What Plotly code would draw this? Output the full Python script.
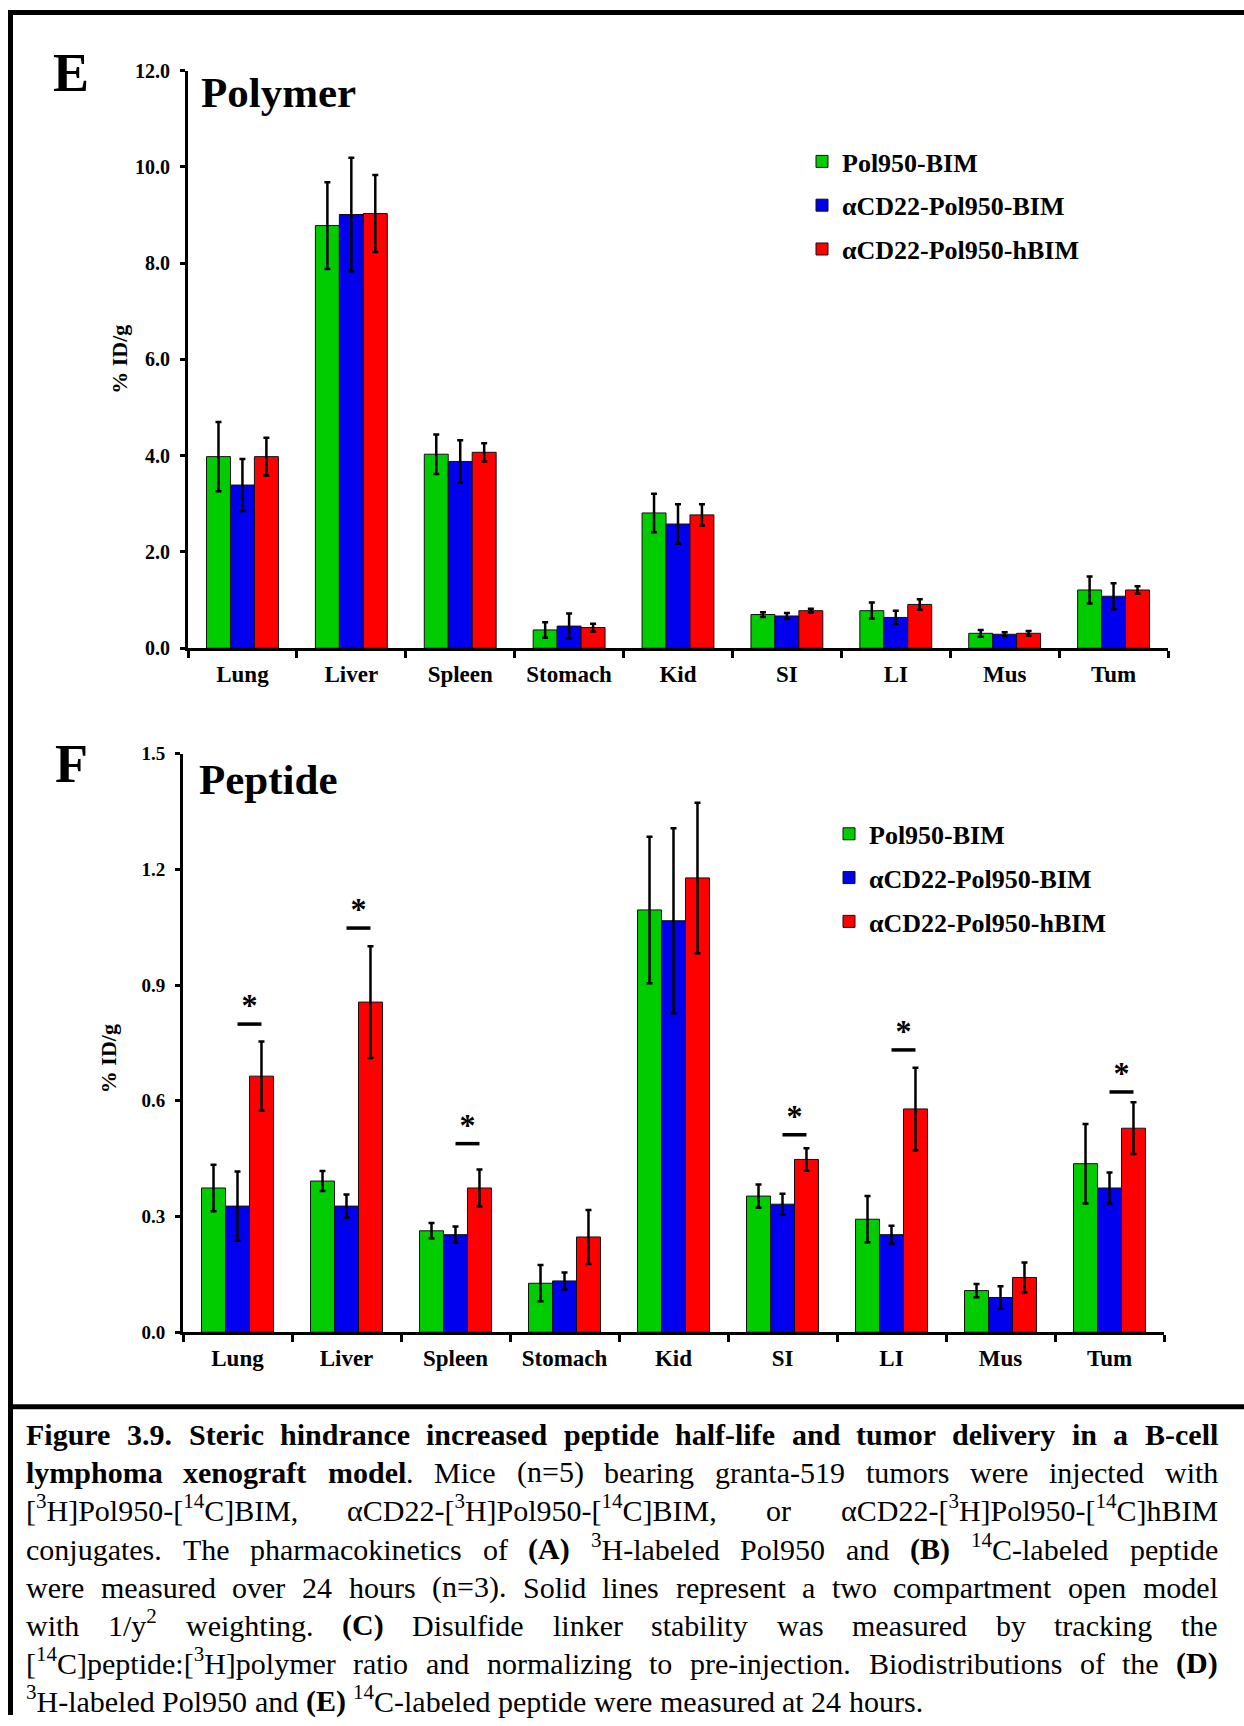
import plotly.graph_objects as go

# ---------------- data ----------------
categories = ["Lung", "Liver", "Spleen", "Stomach", "Kid", "SI", "LI", "Mus", "Tum"]
series_names = ["Pol950-BIM", "αCD22-Pol950-BIM", "αCD22-Pol950-hBIM"]

poly_green = [3.98, 8.78, 4.03, 0.38, 2.81, 0.70, 0.78, 0.31, 1.21]
poly_green_err = [0.72, 0.90, 0.41, 0.16, 0.40, 0.05, 0.17, 0.07, 0.28]
poly_blue = [3.39, 9.01, 3.88, 0.46, 2.58, 0.67, 0.64, 0.29, 1.08]
poly_blue_err = [0.54, 1.18, 0.44, 0.26, 0.41, 0.06, 0.14, 0.04, 0.27]
poly_red = [3.98, 9.03, 4.07, 0.43, 2.77, 0.78, 0.91, 0.31, 1.21]
poly_red_err = [0.39, 0.80, 0.19, 0.08, 0.22, 0.04, 0.11, 0.05, 0.08]

pep_green = [0.374, 0.392, 0.263, 0.127, 1.095, 0.353, 0.293, 0.108, 0.437]
pep_green_err = [0.060, 0.026, 0.020, 0.047, 0.190, 0.030, 0.060, 0.017, 0.103]
pep_blue = [0.327, 0.327, 0.253, 0.133, 1.067, 0.332, 0.253, 0.090, 0.374]
pep_blue_err = [0.090, 0.030, 0.021, 0.022, 0.240, 0.027, 0.023, 0.029, 0.040]
pep_red = [0.664, 0.856, 0.374, 0.247, 1.178, 0.448, 0.579, 0.142, 0.529]
pep_red_err = [0.090, 0.145, 0.048, 0.070, 0.195, 0.029, 0.107, 0.039, 0.067]

sig_categories = ["Lung", "Liver", "Spleen", "SI", "LI", "Tum"]
sig_line_y = [0.799, 1.048, 0.489, 0.512, 0.732, 0.623]

poly_ticks = [0, 2, 4, 6, 8, 10, 12]
pep_ticks = [0.0, 0.3, 0.6, 0.9, 1.2, 1.5]

caption_lines = [
    "**Figure 3.9. Steric hindrance increased peptide half-life and tumor delivery in a B-cell**",
    "**lymphoma xenograft model**. Mice (n=5) bearing granta-519 tumors were injected with",
    "[^{3}H]Pol950-[^{14}C]BIM, αCD22-[^{3}H]Pol950-[^{14}C]BIM, or αCD22-[^{3}H]Pol950-[^{14}C]hBIM",
    "conjugates. The pharmacokinetics of **(A)** ^{3}H-labeled Pol950 and **(B)** ^{14}C-labeled peptide",
    "were measured over 24 hours (n=3). Solid lines represent a two compartment open model",
    "with 1/y^{2} weighting. **(C)** Disulfide linker stability was measured by tracking the",
    "[^{14}C]peptide:[^{3}H]polymer ratio and normalizing to pre-injection. Biodistributions of the **(D)**",
    "^{3}H-labeled Pol950 and **(E)** ^{14}C-labeled peptide were measured at 24 hours.",
]

# ---------------- style ----------------
W, H = 1244, 1726
FONT = "Liberation Serif"
colors = ["#00CC00", "#0000EE", "#FF0000"]

# vertical calibration of the photographed page (measured offset / squeeze)
Y_OFF, Y_SQ = 9.9, 0.98813


def xp(px):
    return px / W


def yp(py):
    return 1 - ((py - Y_OFF) / Y_SQ) / H


fig = go.Figure()

n = len(categories)
xs = list(range(n))
bar_w = 0.22

poly_vals = [(poly_green, poly_green_err), (poly_blue, poly_blue_err), (poly_red, poly_red_err)]
pep_vals = [(pep_green, pep_green_err), (pep_blue, pep_blue_err), (pep_red, pep_red_err)]

for k, (vals, errs) in enumerate(poly_vals):
    fig.add_trace(go.Bar(
        x=xs, y=vals, name=series_names[k], xaxis="x", yaxis="y",
        marker=dict(color=colors[k], line=dict(color="#111111", width=1)),
        error_y=dict(type="data", array=errs, color="black", thickness=2.5, width=3),
        legend="legend", legendgroup="p%d" % k,
    ))
for k, (vals, errs) in enumerate(pep_vals):
    fig.add_trace(go.Bar(
        x=xs, y=vals, name=series_names[k], xaxis="x2", yaxis="y2",
        marker=dict(color=colors[k], line=dict(color="#111111", width=1)),
        error_y=dict(type="data", array=errs, color="black", thickness=2.5, width=3),
        legend="legend2", legendgroup="q%d" % k,
    ))

# significance markers (between blue and red bars)
lx, ly, sx = [], [], []
for c, yv in zip(sig_categories, sig_line_y):
    i = categories.index(c)
    lx += [i, i + bar_w, None]
    ly += [yv, yv, None]
    sx.append(i + bar_w / 2)
fig.add_trace(go.Scatter(x=lx, y=ly, mode="lines", line=dict(color="black", width=3.5),
                         xaxis="x2", yaxis="y2", showlegend=False, hoverinfo="skip"))
fig.add_trace(go.Scatter(x=sx, y=sig_line_y, mode="text", text=["*"] * len(sx),
                         textposition="top center",
                         textfont=dict(family=FONT, size=32, color="black", weight="bold"),
                         xaxis="x2", yaxis="y2", showlegend=False, hoverinfo="skip",
                         cliponaxis=False))


def xaxis_cfg(domain, anchor):
    return dict(
        domain=domain, anchor=anchor, range=[-0.5, n - 0.5],
        tickmode="array", tickvals=xs, ticktext=categories, ticks="",
        ticklabelstandoff=3,
        tickfont=dict(family=FONT, size=23, color="black", weight="bold"),
        minor=dict(tickmode="array", tickvals=[i - 0.5 for i in range(n + 1)],
                   ticks="outside", ticklen=7, tickwidth=3, tickcolor="black", showgrid=False),
        showline=True, linecolor="black", linewidth=3, showgrid=False, zeroline=False,
        fixedrange=True,
    )


def yaxis_cfg(domain, anchor, rng, ticks, size):
    return dict(
        domain=domain, anchor=anchor, range=rng,
        tickmode="array", tickvals=ticks, tickformat=".1f",
        ticks="outside", ticklen=5, tickwidth=3, tickcolor="black",
        ticklabelstandoff=6,
        tickfont=dict(family=FONT, size=size, color="black", weight="bold"),
        showline=True, linecolor="black", linewidth=3, showgrid=False, zeroline=False,
    )


legend_font = dict(family=FONT, size=26, color="black", weight="bold")

fig.update_layout(
    width=W, height=H, margin=dict(l=0, r=0, t=0, b=0),
    paper_bgcolor="white", plot_bgcolor="white",
    barmode="group", bargap=0.34, bargroupgap=0,
    xaxis=xaxis_cfg([xp(188), xp(1168)], "y"),
    yaxis=yaxis_cfg([yp(647.7), yp(69.5)], "x", [0, 12], poly_ticks, 20),
    xaxis2=xaxis_cfg([xp(183), xp(1164)], "y2"),
    yaxis2=yaxis_cfg([yp(1332.3), yp(753.3)], "x2", [0, 1.5], pep_ticks, 19),
    legend=dict(x=xp(802), y=yp(137), xanchor="left", yanchor="top", font=legend_font,
                bgcolor="rgba(0,0,0,0)", traceorder="grouped", tracegroupgap=7),
    legend2=dict(x=xp(829), y=yp(810), xanchor="left", yanchor="top", font=legend_font,
                 bgcolor="rgba(0,0,0,0)", traceorder="grouped", tracegroupgap=7),
    showlegend=True,
)


def bold_font(size):
    return dict(family=FONT, size=size, color="black", weight="bold")


annotations = []
# panel letters and titles
annotations.append(dict(text="E", x=xp(71), y=yp(72), xref="paper", yref="paper",
                        xanchor="center", yanchor="middle", showarrow=False, font=bold_font(54)))
annotations.append(dict(text="F", x=xp(71), y=yp(764), xref="paper", yref="paper",
                        xanchor="center", yanchor="middle", showarrow=False, font=bold_font(54)))
annotations.append(dict(text="Polymer", x=xp(199), y=yp(91), xref="paper", yref="paper",
                        xanchor="left", yanchor="middle", showarrow=False, font=bold_font(43)))
annotations.append(dict(text="Peptide", x=xp(197), y=yp(779), xref="paper", yref="paper",
                        xanchor="left", yanchor="middle", showarrow=False, font=bold_font(43)))
# y-axis titles
annotations.append(dict(text="% ID/g", x=xp(120), y=yp(358), xref="paper", yref="paper",
                        xanchor="center", yanchor="middle", showarrow=False, textangle=-90,
                        font=bold_font(22)))
annotations.append(dict(text="% ID/g", x=xp(108), y=yp(1059), xref="paper", yref="paper",
                        xanchor="center", yanchor="middle", showarrow=False, textangle=-90,
                        font=bold_font(22)))

# ---------------- caption (justified, word by word) ----------------
TR = dict(zip(" !()*+,-./0123456789:;=[]", [250, 333, 333, 333, 500, 564, 250, 333, 250, 278] + [500] * 10 + [278, 278, 564, 333, 333]))
TR.update(dict(zip("ABCDEFGHIJKLMNOPQRSTUVWXYZ", [722, 667, 667, 722, 611, 556, 722, 722, 333, 389, 722, 611, 889, 722, 722, 556, 722, 667, 556, 611, 722, 722, 944, 722, 722, 611])))
TR.update(dict(zip("abcdefghijklmnopqrstuvwxyz", [444, 500, 444, 500, 444, 333, 500, 500, 278, 278, 500, 278, 778, 500, 500, 500, 500, 333, 389, 278, 500, 500, 722, 500, 500, 444])))
TR["α"] = 540
TB = dict(zip(" !()*+,-./0123456789:;=[]", [250, 333, 333, 333, 500, 570, 250, 333, 250, 278] + [500] * 10 + [333, 333, 570, 333, 333]))
TB.update(dict(zip("ABCDEFGHIJKLMNOPQRSTUVWXYZ", [722, 667, 722, 722, 667, 611, 778, 778, 389, 500, 778, 667, 944, 722, 778, 611, 778, 722, 556, 667, 722, 722, 1000, 722, 722, 667])))
TB.update(dict(zip("abcdefghijklmnopqrstuvwxyz", [500, 556, 444, 556, 444, 333, 500, 556, 278, 333, 556, 278, 833, 556, 500, 556, 556, 444, 389, 333, 556, 500, 722, 500, 500, 444])))
TB["α"] = 560

CAP_FS = 30
CAP_LEFT, CAP_RIGHT = 26, 1218
CAP_BASE0, CAP_STEP = 1445, 38.1
DESC = 0.216


def parse_line(s):
    words, cur, buf = [], [], ""
    bold = False
    i = 0
    while i < len(s):
        if s.startswith("**", i):
            if buf:
                cur.append((buf, bold, False)); buf = ""
            bold = not bold; i += 2
        elif s.startswith("^{", i):
            if buf:
                cur.append((buf, bold, False)); buf = ""
            j = s.index("}", i)
            cur.append((s[i + 2:j], bold, True)); i = j + 1
        elif s[i] == " ":
            if buf:
                cur.append((buf, bold, False)); buf = ""
            if cur:
                words.append(cur); cur = []
            i += 1
        else:
            buf += s[i]; i += 1
    if buf:
        cur.append((buf, bold, False))
    if cur:
        words.append(cur)
    return words


def seg_width(seg, fs):
    t, b, sup = seg
    tab = TB if b else TR
    return sum(tab.get(c, 500) for c in t) / 1000 * fs * (0.7 if sup else 1.0)


def weight_groups(segs):
    groups = []
    for s in segs:
        if groups and groups[-1][0] == s[1]:
            groups[-1][1].append(s)
        else:
            groups.append([s[1], [s]])
    return groups


def group_html(segs):
    return "".join("<sup>%s</sup>" % t if sup else t for t, b, sup in segs)


def add_caption_text(html, x_px, xanchor, base, bold):
    annotations.append(dict(
        text=html, x=xp(x_px), y=yp(base + DESC * CAP_FS),
        xref="paper", yref="paper", xanchor=xanchor, yanchor="bottom",
        showarrow=False, borderpad=0, borderwidth=0,
        font=dict(family=FONT, size=CAP_FS, color="black",
                  weight="bold" if bold else "normal"),
    ))


for li, line in enumerate(caption_lines):
    words = parse_line(line)
    widths = [sum(seg_width(s, CAP_FS) for s in w) for w in words]
    last = li == len(caption_lines) - 1
    if last or len(words) < 2:
        gap = 0.25 * CAP_FS
    else:
        gap = (CAP_RIGHT - CAP_LEFT - sum(widths)) / (len(words) - 1)
    base = CAP_BASE0 + li * CAP_STEP
    xcur = CAP_LEFT
    for wi, (segs, ww) in enumerate(zip(words, widths)):
        groups = weight_groups(segs)
        if (not last) and wi == len(words) - 1 and len(groups) == 1:
            add_caption_text(group_html(groups[0][1]), CAP_RIGHT, "right", base, groups[0][0])
        else:
            gx = xcur
            for bold, gsegs in groups:
                add_caption_text(group_html(gsegs), gx, "left", base, bold)
                gx += sum(seg_width(s, CAP_FS) for s in gsegs)
        xcur += ww + gap

fig.update_layout(annotations=annotations)

# frame lines
shapes = [
    dict(type="line", xref="paper", yref="paper", x0=xp(8), x1=1, y0=yp(11.5), y1=yp(11.5),
         line=dict(color="black", width=5)),
    dict(type="line", xref="paper", yref="paper", x0=xp(10.5), x1=xp(10.5), y0=yp(9), y1=0,
         line=dict(color="black", width=5)),
    dict(type="line", xref="paper", yref="paper", x0=xp(8), x1=1, y0=yp(1407), y1=yp(1407),
         line=dict(color="black", width=5)),
]
fig.update_layout(shapes=shapes)

post = (
    "document.documentElement.style.margin='0';"
    "document.documentElement.style.padding='0';"
    "document.body.style.margin='0';"
    "document.body.style.padding='0';"
    "document.documentElement.style.overflow='hidden';"
    "document.body.style.overflow='hidden';"
    "var gd=document.getElementById('{plot_id}');"
    "gd.style.position='absolute';gd.style.left='0px';gd.style.top='0px';"
)
fig.write_html("out.html", post_script=post, config={"displayModeBar": False})
